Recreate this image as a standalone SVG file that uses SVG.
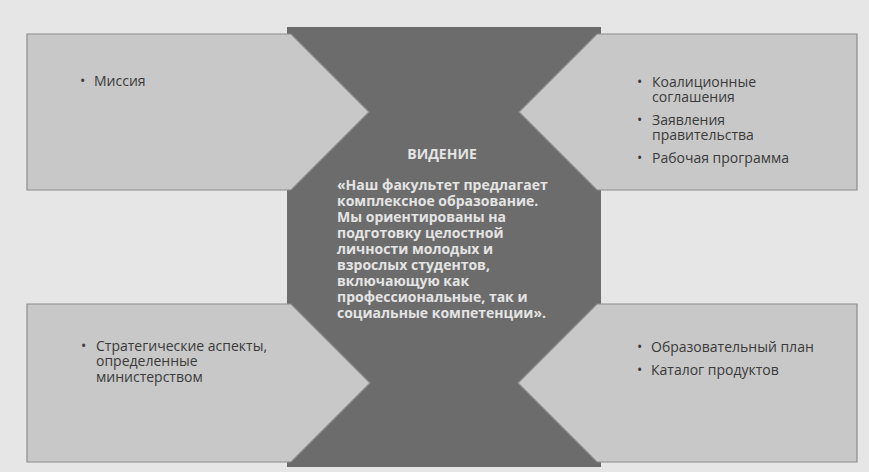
<svg xmlns="http://www.w3.org/2000/svg" width="869" height="472" viewBox="0 0 869 472">
<style>
.box{fill:#c8c8c8;stroke:#8c8c8c;stroke-width:1.2}
.core{fill:#6c6c6c}
.t{font-family:"Open Sans","Noto Sans","DejaVu Sans",sans-serif;font-size:14px;fill:#3a3a3a}
.w{font-family:"Open Sans","Noto Sans","DejaVu Sans",sans-serif;font-size:14px;font-weight:bold;fill:#e4e4e4}
</style>
<rect x="0" y="0" width="869" height="472" fill="#e6e6e6"/>
<g id="node-vision">
<rect class="core" x="287" y="27" width="314" height="440"/>
</g>
<g id="node-mission">
<polygon class="box" points="27,34 291,34 369,112 291,190 27,190"/>
<text class="t" y="86"><tspan x="80">•</tspan><tspan x="94">Миссия</tspan></text>
</g>
<g id="node-agreements">
<polygon class="box" points="857,34 597,34 519,112 597,190 857,190"/>
<text class="t"><tspan x="637" y="87">•</tspan><tspan x="652" y="87">Коалиционные</tspan><tspan x="652" y="102">соглашения</tspan></text>
<text class="t"><tspan x="637" y="125">•</tspan><tspan x="652" y="125">Заявления</tspan><tspan x="652" y="140">правительства</tspan></text>
<text class="t" y="163"><tspan x="637">•</tspan><tspan x="652">Рабочая программа</tspan></text>
</g>
<g id="node-strategy">
<polygon class="box" points="27,304 291,304 370,383 291,462 27,462"/>
<text class="t"><tspan x="81" y="351">•</tspan><tspan x="96" y="351">Стратегические аспекты,</tspan><tspan x="96" y="366">определенные</tspan><tspan x="96" y="382">министерством</tspan></text>
</g>
<g id="node-plan">
<polygon class="box" points="857,304 597,304 518,383 597,462 857,462"/>
<text class="t" y="352"><tspan x="637">•</tspan><tspan x="651">Образовательный план</tspan></text>
<text class="t" y="375"><tspan x="637">•</tspan><tspan x="651">Каталог продуктов</tspan></text>
</g>
<g id="node-vision-text">
<text class="w" x="442" y="159" text-anchor="middle">ВИДЕНИЕ</text>
<text class="w"><tspan x="337" y="190">«Наш факультет предлагает</tspan><tspan x="337" y="206">комплексное образование.</tspan><tspan x="337" y="222">Мы ориентированы на</tspan><tspan x="337" y="238">подготовку целостной</tspan><tspan x="337" y="254">личности молодых и</tspan><tspan x="337" y="270">взрослых студентов,</tspan><tspan x="337" y="286">включающую как</tspan><tspan x="337" y="302">профессиональные, так и</tspan><tspan x="337" y="318">социальные компетенции».</tspan></text>
</g>
<g id="connectors"/>
</svg>
